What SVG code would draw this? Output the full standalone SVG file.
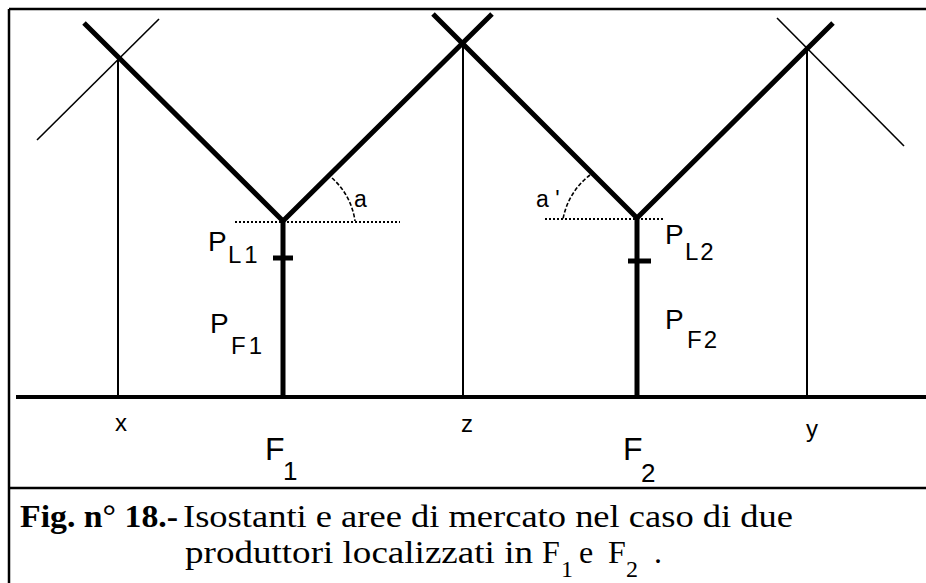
<svg xmlns="http://www.w3.org/2000/svg" width="926" height="583" viewBox="0 0 926 583">
<style>
.frame{stroke:#000;stroke-width:2.5;fill:none}
.heavy{stroke:#000;stroke-width:5;fill:none;stroke-linecap:butt}
.thin{stroke:#000;stroke-width:1.6;fill:none}
.vert{stroke:#000;stroke-width:2;fill:none}
.dot{stroke:#000;stroke-width:2;fill:none;stroke-dasharray:2 2}
.arc{stroke:#000;stroke-width:1.6;fill:none;stroke-dasharray:4 2}
.lbl{font-family:"Liberation Sans",Arial,sans-serif;fill:#000}
.cap{font-family:"Liberation Serif","Times New Roman",serif;fill:#000;font-size:32px}
</style>
<rect width="926" height="583" fill="#fff"/>
<g id="frame">
<line class="frame" x1="9" y1="9" x2="926" y2="9"/>
<line class="frame" x1="9" y1="9" x2="9" y2="583"/>
<line class="frame" x1="9" y1="488" x2="926" y2="488"/>
</g>
<g id="baseline">
<line x1="16" y1="397" x2="926" y2="397" stroke="#000" stroke-width="4"/>
</g>
<g id="connectors">
<line class="thin" x1="37" y1="140" x2="159" y2="19"/>
<line class="thin" x1="777" y1="18" x2="904" y2="146"/>
<line class="vert" x1="118" y1="60" x2="118" y2="397"/>
<line class="vert" x1="463" y1="43" x2="463" y2="397"/>
<line class="vert" x1="807" y1="48" x2="807" y2="397"/>
<polyline class="heavy" points="84,23 283,221 492,14"/>
<polyline class="heavy" points="433,14 637,218 833,23"/>
<line class="heavy" x1="283" y1="221" x2="283" y2="397"/>
<line class="heavy" x1="637" y1="218" x2="637" y2="397"/>
<line class="heavy" x1="273" y1="258" x2="293" y2="258"/>
<line class="heavy" x1="628" y1="261" x2="651" y2="261"/>
<line class="dot" x1="235" y1="222" x2="400" y2="222"/>
<line class="dot" x1="545" y1="219" x2="665" y2="219"/>
<path class="arc" d="M332,178 A70,70 0 0 1 355,221"/>
<path class="arc" d="M590,175 A72,72 0 0 0 563,219"/>
</g>
<g id="label-a"><text class="lbl" x="354" y="207" font-size="23">a</text></g>
<g id="label-a2"><text class="lbl" x="536" y="207" font-size="23">a '</text></g>
<g id="label-PL1"><text class="lbl" x="208" y="251" font-size="28">P<tspan x="228" y="263" font-size="24" letter-spacing="3">L1</tspan></text></g>
<g id="label-PF1"><text class="lbl" x="210" y="333" font-size="28">P<tspan x="231" y="354" font-size="24" letter-spacing="3">F1</tspan></text></g>
<g id="label-PL2"><text class="lbl" x="665" y="244" font-size="28">P<tspan x="685" y="260" font-size="24" letter-spacing="2">L2</tspan></text></g>
<g id="label-PF2"><text class="lbl" x="665" y="329" font-size="28">P<tspan x="687" y="348" font-size="24" letter-spacing="2">F2</tspan></text></g>
<g id="label-x"><text class="lbl" x="121" y="431" font-size="24" text-anchor="middle">x</text></g>
<g id="label-z"><text class="lbl" x="467" y="432" font-size="24" text-anchor="middle">z</text></g>
<g id="label-y"><text class="lbl" x="812" y="437" font-size="24" text-anchor="middle">y</text></g>
<g id="label-F1"><text class="lbl" x="265" y="460" font-size="32">F<tspan x="283" y="480" font-size="26">1</tspan></text></g>
<g id="label-F2"><text class="lbl" x="623" y="460" font-size="32">F<tspan x="641" y="482" font-size="26">2</tspan></text></g>
<g id="caption">
<text class="cap" x="20" y="527"><tspan font-weight="bold" textLength="158" lengthAdjust="spacingAndGlyphs">Fig. n° 18.-</tspan><tspan x="183" textLength="610" lengthAdjust="spacingAndGlyphs">Isostanti e aree di mercato nel caso di due</tspan></text>
<text class="cap" x="185" y="563"><tspan textLength="348" lengthAdjust="spacingAndGlyphs">produttori localizzati in</tspan><tspan x="542">F</tspan><tspan x="561" y="577" font-size="24">1</tspan><tspan x="579" y="563">e</tspan><tspan x="608">F</tspan><tspan x="626" y="577" font-size="24">2</tspan><tspan x="654" y="563">.</tspan></text>
</g>
</svg>
